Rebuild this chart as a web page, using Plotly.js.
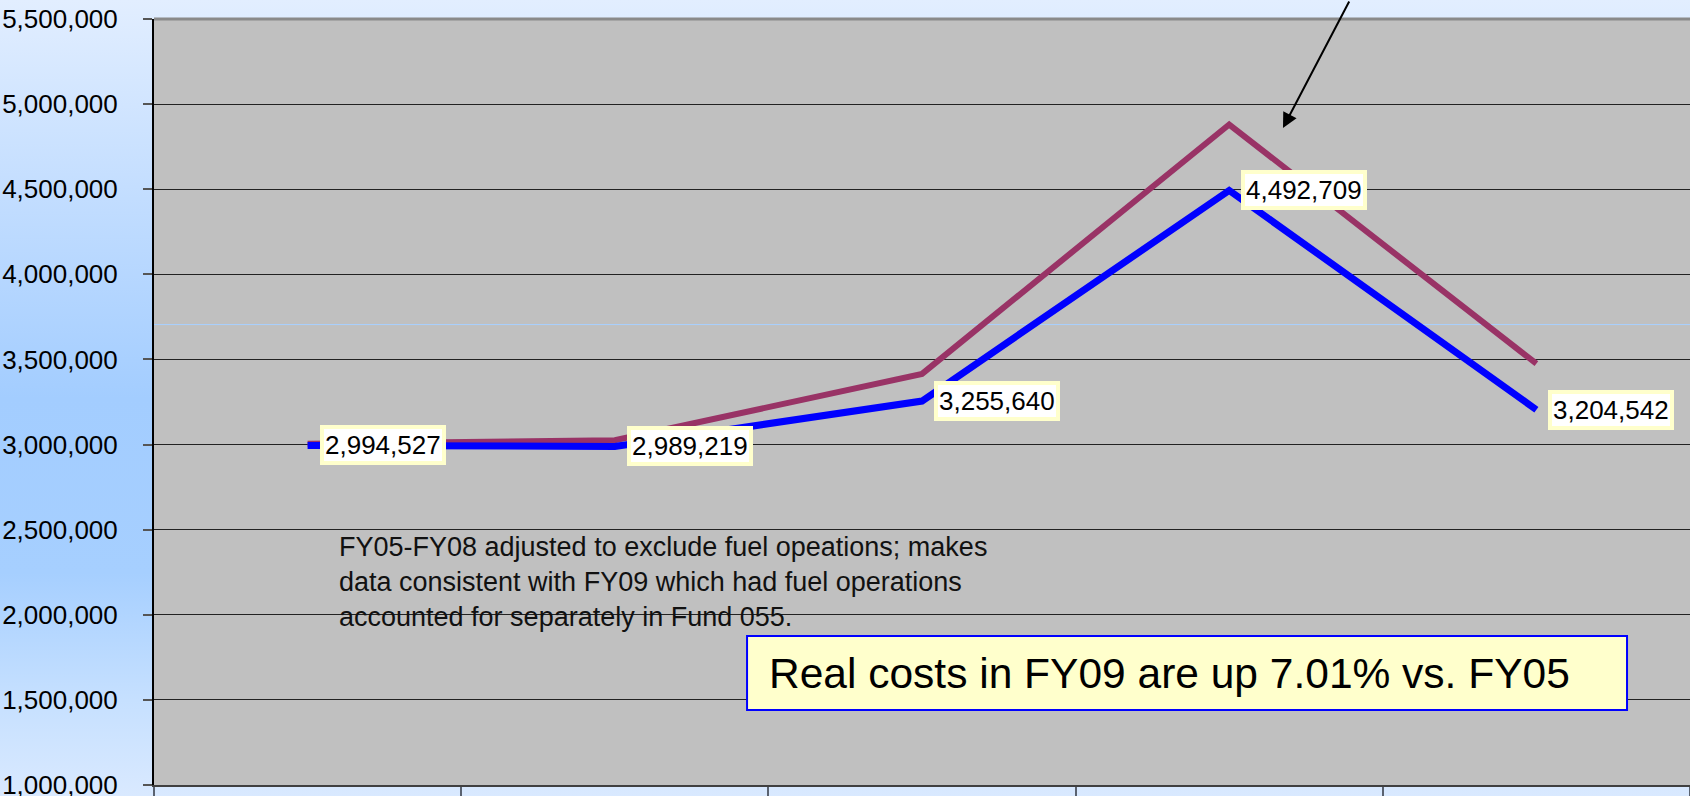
<!DOCTYPE html>
<html>
<head>
<meta charset="utf-8">
<script src="https://cdn.plot.ly/plotly-3.0.1.min.js"></script>
<style>
  html, body { margin: 0; padding: 0; width: 1690px; height: 796px; overflow: hidden; }
  body {
    background: linear-gradient(to bottom, #E2EEFF 0%, #C2DDFF 25%, #A3CDFF 50%, #A6CFFF 72%, #C6E0FF 88%, #D9E9FF 100%);
  }
  #chart { width: 1690px; height: 796px; }
</style>
</head>
<body>
<div id="chart"></div>
<script>
// ---- data ----
const categories = ['FY05', 'FY06', 'FY07', 'FY08', 'FY09'];
const realCosts = [2994527, 2989219, 3255640, 4492709, 3204542];      // blue series (labelled)
const nominalCosts = [3005000, 3025000, 3415000, 4880000, 3475000];   // maroon series
const yTickVals = [1000000, 1500000, 2000000, 2500000, 3000000, 3500000, 4000000, 4500000, 5000000, 5500000];
const noteText = 'FY05-FY08 adjusted to exclude fuel opeations; makes<br>data consistent with FY09 which had fuel operations<br>accounted for separately in Fund 055.';
const boxText = 'Real costs in FY09 are up 7.01% vs. FY05';

const FONT = 'Liberation Sans, Arial, sans-serif';

const traces = [
  {
    x: categories, y: nominalCosts, type: 'scatter', mode: 'lines',
    line: { color: '#993366', width: 6 }, hoverinfo: 'skip', showlegend: false
  },
  {
    x: categories, y: realCosts, type: 'scatter', mode: 'lines',
    line: { color: '#0000FF', width: 7 }, hoverinfo: 'skip', showlegend: false
  }
];

const labelAnns = categories.map((c, i) => ({
  x: c, y: realCosts[i], xref: 'x', yref: 'y',
  text: realCosts[i].toLocaleString('en-US'),
  showarrow: false, xanchor: 'left', yanchor: 'middle', xshift: 12,
  bgcolor: '#FFFFFF', bordercolor: '#FFFFCC', borderwidth: 4, borderpad: 1,
  font: { family: FONT, size: 26, color: '#000000' }
}));

const layout = {
  width: 1690, height: 796,
  margin: { l: 154, r: 0, t: 19, b: 11, pad: 0 },
  paper_bgcolor: 'rgba(0,0,0,0)',
  plot_bgcolor: '#C0C0C0',
  font: { family: FONT, size: 26, color: '#000000' },
  showlegend: false,
  xaxis: {
    type: 'category', range: [-0.5, 4.5],
    showticklabels: false, showgrid: false, zeroline: false,
    ticks: 'outside', tickson: 'boundaries', ticklen: 11, tickwidth: 2, tickcolor: '#5A6270',
    showline: true, linecolor: '#404040', linewidth: 2
  },
  yaxis: {
    range: [1000000, 5500000], tickvals: yTickVals, tickformat: ',d',
    showgrid: true, gridcolor: '#222222', gridwidth: 1, zeroline: false,
    ticks: 'outside', ticklen: 9, tickwidth: 2, tickcolor: '#555555',
    showline: true, linecolor: '#000000', linewidth: 2,
    ticklabelstandoff: 20, ticklabeloverflow: 'allow',
    tickfont: { family: FONT, size: 26, color: '#000000' }
  },
  shapes: [
    { type: 'line', xref: 'paper', yref: 'y', x0: 0, x1: 1, y0: 3705000, y1: 3705000,
      line: { color: '#A8D0FF', width: 1 }, layer: 'below' },
    { type: 'line', xref: 'paper', yref: 'paper', x0: 0, x1: 1, y0: 1, y1: 1,
      line: { color: '#8A8A8A', width: 3 }, layer: 'above' },
    { type: 'rect', xref: 'paper', yref: 'paper', x0: 0.3861, x1: 0.959, y0: 0.0979, y1: 0.1945,
      fillcolor: '#FFFFCC', line: { color: '#0000FF', width: 2 }, layer: 'above' }
  ],
  annotations: labelAnns.concat([
    { xref: 'paper', yref: 'paper', x: 0.1191, y: 0.265, xanchor: 'left', yanchor: 'middle',
      align: 'left', showarrow: false, text: noteText,
      font: { family: FONT, size: 27, color: '#111111' } },
    { xref: 'paper', yref: 'paper', x: 0.399, y: 0.1462, xanchor: 'left', yanchor: 'middle',
      align: 'left', showarrow: false, text: boxText,
      font: { family: FONT, size: 42.5, color: '#000000' } },
    { xref: 'paper', yref: 'paper', x: 0.735, y: 0.8577, text: '', showarrow: true,
      ax: 67, ay: -140, arrowcolor: '#000000', arrowwidth: 2, arrowhead: 2, arrowsize: 1.5 }
  ])
};

Plotly.newPlot('chart', traces, layout, { displayModeBar: false, staticPlot: true });
</script>
</body>
</html>
